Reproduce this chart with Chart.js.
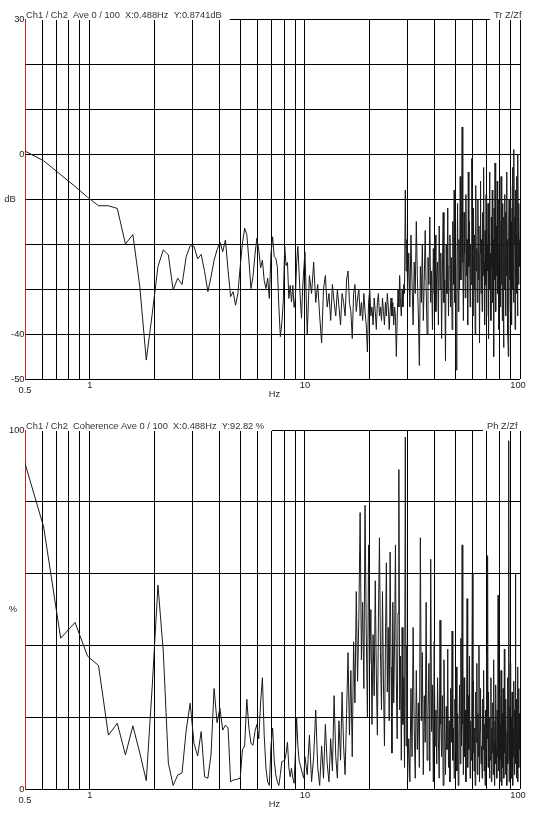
<!DOCTYPE html>
<html>
<head>
<meta charset="utf-8">
<script src="https://cdn.jsdelivr.net/npm/chart.js@4"></script>
<style>
body { margin: 0; background: #fff; }
canvas { display: block; }
</style>
</head>
<body>
<canvas id="trChart" width="544" height="413"></canvas>
<canvas id="cohChart" width="544" height="413"></canvas>
<script>
// analyser line spacing (Hz per bin)
const binHz = 0.12207;

// grid lines on the frequency axis, and which of them get a label
const gridHz = [0.5, 0.6, 0.7, 0.8, 0.9, 1, 2, 3, 4, 5, 6, 7, 8, 9, 10, 20, 30, 40, 50, 60, 70, 80, 90, 100];
const hzLabels = [0.5, 1, 10, 100];
const dbLabels = [30, 0, -40, -50];
const cohLabels = [100, 0];

// transfer function Tr Z/Zf in dB
// bins 4..82, every bin
const trLow = [0.9, -1.5, -4.6, -7.2, -9.6, -11.5, -11.5, -12.1, -20, -17.9,
  -29.5, -45.8, -35.4, -25, -21.3, -22.4, -30.2, -27.6, -29, -22.8,
  -20.4, -20.5, -23.3, -22.3, -26.1, -30.6, -27.3, -23.6, -21.3, -19.6,
  -21.7, -19.1, -25.8, -31.7, -30.6, -33.6, -31, -25, -19.8, -16.5,
  -17.9, -23.6, -29.9, -27.3, -22.4, -18.7, -21.3, -25.3, -23.6, -28.1,
  -29.9, -27.6, -32.1, -22.1, -18.4, -22.8, -23.2, -25, -33.9, -40.6,
  -37.6, -32.8, -20.5, -24.8, -24.1, -32.1, -29.2, -32.9, -29.2, -34.1,
  -31.9, -24.1, -20.5, -26.2, -32.2, -36.5, -29.8, -25.5, -21.8];
// bins 84..246, every 2nd bin
const trMid = [-40, -27, -31, -24, -33, -29, -36, -42, -30, -27,
  -34, -31, -37, -29, -33, -36, -30, -34, -38, -31,
  -33, -36, -28, -26, -33, -35, -41, -31, -29, -35,
  -32, -30, -36, -33, -37, -31, -35, -38, -44, -33,
  -30, -36, -34, -38, -32, -35, -39, -33, -31, -36,
  -34, -37, -32, -35, -38, -33, -36, -31, -34, -39,
  -35, -32, -36, -33, -38, -34, -36, -45, -37, -30,
  -34, -27, -33, -36, -30, -34, -29, -31, -8, -26,
  -19, -31];
// bins 249..816, every 3rd bin
const trHigh = [-22, -34, -18, -29, -38, -24, -31, -15, -27, -36,
  -47, -25, -33, -20, -37, -28, -17, -30, -40, -23,
  -29, -14, -33, -26, -39, -21, -31, -18, -35, -27,
  -24, -38, -16, -30, -22, -41, -26, -13, -33, -28,
  -46, -20, -31, -12, -36, -25, -18, -34, -23, -39,
  -15, -29, -8, -33, -21, -48, -26, -11, -35, -19,
  -30, -5, -28, -17, 6, -24, -37, -13, -22, -32,
  -9, -27, -19, -38, -4, -25, -15, -34, -20, -29,
  -1, -23, -36, -12, -30, -18, -40, -7, -26, -21,
  -33, -10, -28, -16, -42, -22, -6, -31, -19, -35,
  -13, -27, -3, -24, -38, -17, -29, -9, -36, -20,
  -26, -11, -41, -18, -4, -30, -22, -37, -14, -25,
  -8, -33, -19, -45, -12, -28, -2, -23, -35, -16,
  -27, -6, -31, -20, -39, -10, -24, -15, -34, -21,
  -5, -29, -18, -37, -11, -26, -43, -14, -30, -9,
  -22, -36, -13, -27, -4, -32, -19, -40, -45, -17,
  -10, -28, -21, -35, -7, -25, -15, -38, -12, -30,
  -3, -24, -33, 1, -20, -14, -39, -8, -27, -18,
  -31, -5, -22, -36, 0, -16, -29, -11, -25, -19];

// coherence in %
const cohLow = [92.8, 73, 42, 46.4, 37, 34.4, 15, 18.3, 9.5, 17.6,
  10, 2.3, 29, 56.8, 38.2, 7.2, 1, 3.9, 4.5, 16.4,
  23.9, 12.7, 9.2, 16, 3.4, 3, 9.5, 28, 18.5, 22.5,
  16.4, 17.8, 17, 2, 2.5, 2.6, 2.8, 3, 11, 12,
  25, 17, 12.7, 12.2, 16, 18, 14, 24, 31, 15,
  5.8, 2, 1, 12, 17, 8, 4, 2, 1, 4,
  7.6, 7.8, 8, 10, 13, 6, 3.4, 5.8, 3, 1.6,
  10, 20, 12, 8, 6.7, 5.3, 4, 3, 9];
const cohMid = [4, 15, 2, 9, 22, 6, 1, 12, 3, 18,
  7, 2, 14, 5, 26, 9, 3, 19, 8, 27,
  12, 4, 21, 38, 15, 33, 9, 41, 24, 55,
  30, 48, 77, 36, 52, 28, 79, 44, 20, 68,
  35, 50, 18, 43, 26, 58, 32, 15, 47, 70,
  38, 22, 55, 29, 12, 40, 63, 27, 45, 19,
  66, 34, 10, 52, 24, 41, 68, 30, 14, 49,
  89, 22, 37, 8, 45, 18, 31, 6, 98, 12,
  40, 3];
const cohHigh = [14, 2, 28, 9, 45, 17, 3, 33, 11, 24,
  6, 70, 19, 38, 4, 26, 13, 52, 8, 21,
  35, 5, 64, 16, 29, 2, 41, 12, 22, 7,
  31, 14, 3, 47, 18, 9, 26, 1, 36, 15,
  4, 23, 11, 39, 6, 19, 2, 28, 13, 44,
  8, 17, 3, 25, 10, 34, 5, 21, 1, 14,
  29, 7, 42, 12, 68, 18, 4, 31, 9, 22,
  2, 15, 53, 6, 26, 11, 37, 3, 19, 8,
  24, 60, 10, 30, 5, 17, 1, 27, 13, 35,
  4, 21, 9, 40, 2, 16, 28, 7, 12, 3,
  25, 11, 33, 5, 18, 1, 22, 9, 38, 14,
  65, 6, 27, 12, 3, 20, 8, 31, 2, 17,
  10, 24, 4, 36, 13, 1, 19, 7, 29, 11,
  3, 22, 9, 54, 15, 5, 26, 2, 18, 8,
  33, 12, 1, 21, 6, 28, 14, 3, 39, 10,
  19, 4, 25, 9, 1, 16, 31, 7, 13, 97,
  2, 23, 8, 35, 11, 3, 20, 6, 27, 12,
  1, 17, 9, 30, 4, 22, 14, 60, 7, 25,
  3, 18, 10, 34, 2, 15, 28, 6, 21, 11];

function toPoints(startBin, stride, values) {
  return values.map((v, i) => ({ x: (startBin + i * stride) * binHz, y: v }));
}

const FONT = '9.3px "Liberation Sans", Arial, sans-serif';

// axis labels + header text, drawn over the chart
function panelText(info) {
  return {
    id: 'panelText',
    afterDraw(chart) {
      const ctx = chart.ctx;
      const a = chart.chartArea;
      const x = chart.scales.x, y = chart.scales.y;
      ctx.save();
      ctx.font = FONT;

      // header text sits on the top border, with a white box behind it
      const w1 = ctx.measureText(info.title).width;
      ctx.fillStyle = '#fff';
      ctx.fillRect(a.left + 1, a.top - 1, w1 + 8, 2);
      ctx.fillRect(info.rightX - 4, a.top - 1, chart.width - info.rightX + 4, 2);
      ctx.fillStyle = '#333';
      ctx.textBaseline = 'alphabetic';
      ctx.textAlign = 'left';
      ctx.fillText(info.title, a.left + 1, a.top - 1);
      ctx.fillText(info.right, info.rightX, a.top - 1);

      ctx.fillStyle = '#222';
      ctx.textBaseline = 'middle';
      ctx.textAlign = 'right';
      info.yLabels.forEach(v => {
        ctx.fillText(String(v), a.left - 0.5, y.getPixelForValue(v));
      });
      ctx.textAlign = 'center';
      ctx.fillText(info.unit, info.unitX, (a.top + a.bottom) / 2);

      hzLabels.forEach(v => {
        let px = x.getPixelForValue(v);
        if (v === 100) px -= 2;
        ctx.fillText(String(v), px, a.bottom + (v === 0.5 ? 11.5 : 6.5));
      });
      ctx.fillText('Hz', (a.left + a.right) / 2 + 2, a.bottom + 15.5);
      ctx.restore();
    }
  };
}

function makePanel(canvasId, points, yMin, yMax, yStep, padTop, padBottom, info) {
  return new Chart(document.getElementById(canvasId).getContext('2d'), {
    type: 'line',
    data: {
      datasets: [{
        data: points,
        borderColor: '#1a1a1a',
        borderWidth: 1,
        pointRadius: 0,
        tension: 0,
        fill: false
      }]
    },
    options: {
      responsive: false,
      animation: false,
      events: [],
      layout: { padding: { left: 25, right: 24, top: padTop, bottom: padBottom } },
      plugins: { legend: { display: false }, tooltip: { enabled: false } },
      scales: {
        x: {
          type: 'logarithmic',
          min: 0.5,
          max: 100,
          afterBuildTicks: s => { s.ticks = gridHz.map(v => ({ value: v })); },
          ticks: { display: false },
          grid: { color: c => (c.index === 0 ? 'rgba(0,0,0,0)' : '#000'), lineWidth: 1, drawTicks: false },
          border: { display: false },
          afterFit: s => { s.height = 0; }
        },
        y: {
          min: yMin,
          max: yMax,
          ticks: { display: false, stepSize: yStep },
          grid: { color: '#000', lineWidth: 1, drawTicks: false },
          border: { display: true, color: '#cc2020', width: 1 },
          afterFit: s => { s.width = 0; }
        }
      }
    },
    plugins: [panelText(info)]
  });
}

const trPoints = [...toPoints(4, 1, trLow), ...toPoints(84, 2, trMid), ...toPoints(249, 3, trHigh)];
const cohPoints = [...toPoints(4, 1, cohLow), ...toPoints(84, 2, cohMid), ...toPoints(249, 3, cohHigh)];

makePanel('trChart', trPoints, -50, 30, 10, 19, 34, {
  title: 'Ch1 / Ch2  Ave 0 / 100  X:0.488Hz  Y:0.8741dB',
  right: 'Tr Z/Zf',
  rightX: 494,
  yLabels: dbLabels,
  unit: 'dB',
  unitX: 10
});

makePanel('cohChart', cohPoints, 0, 100, 20, 17, 37, {
  title: 'Ch1 / Ch2  Coherence Ave 0 / 100  X:0.488Hz  Y:92.82 %',
  right: 'Ph Z/Zf',
  rightX: 487,
  yLabels: cohLabels,
  unit: '%',
  unitX: 13
});
</script>
</body>
</html>
